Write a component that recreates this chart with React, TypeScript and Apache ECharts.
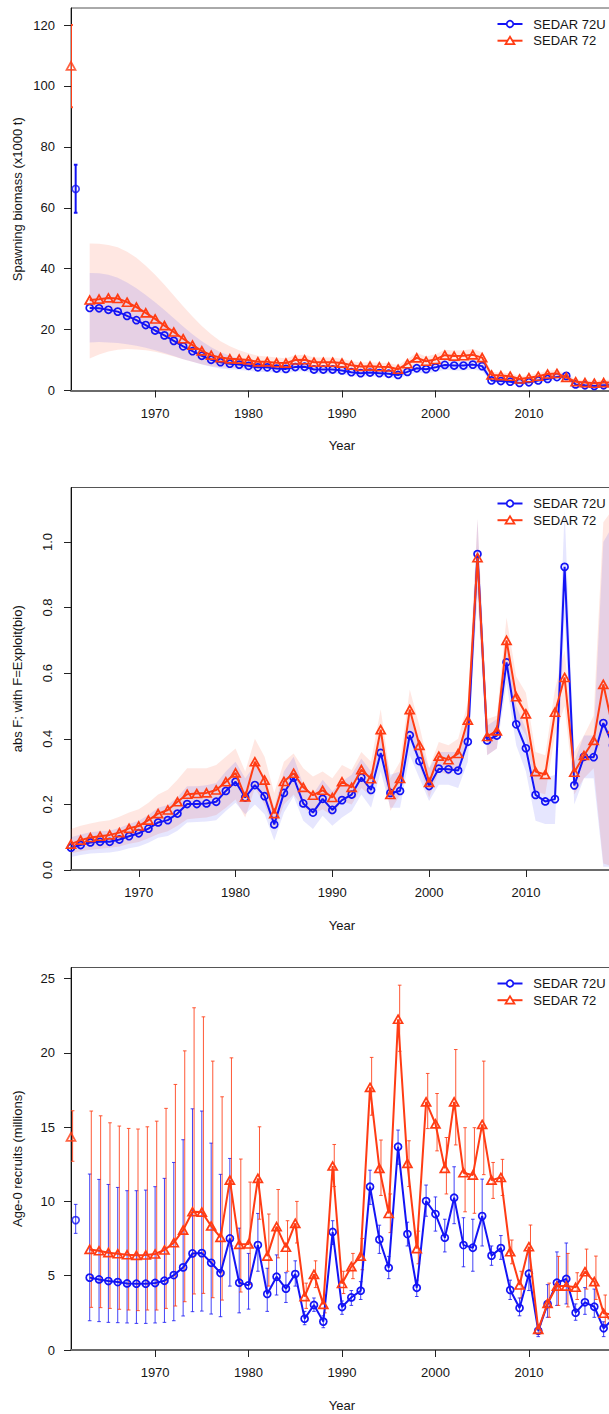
import React, { useEffect, useRef } from "react";
import * as echarts from "echarts";

const BLUE = "#1414F5";
const RED = "#FF3C14";
const FONT = "'Liberation Sans', Arial, Helvetica, sans-serif";
const TXT = "#151515";

const years = [
  1963, 1964, 1965, 1966, 1967, 1968, 1969, 1970, 1971, 1972,
  1973, 1974, 1975, 1976, 1977, 1978, 1979, 1980, 1981, 1982,
  1983, 1984, 1985, 1986, 1987, 1988, 1989, 1990, 1991, 1992,
  1993, 1994, 1995, 1996, 1997, 1998, 1999, 2000, 2001, 2002,
  2003, 2004, 2005, 2006, 2007, 2008, 2009, 2010, 2011, 2012,
  2013, 2014, 2015, 2016, 2017, 2018, 2019,
];
const xTicks = [1970, 1980, 1990, 2000, 2010, 2020];
const ssbTicks = [0, 20, 40, 60, 80, 100, 120];
const fTicks = [0, 0.2, 0.4, 0.6, 0.8, 1.0];
const recTicks = [0, 5, 10, 15, 20, 25];
const modelNames = ["SEDAR 72U", "SEDAR 72"];

// Panel 1: spawning biomass (x1000 t)
const ssbVirginBlue = [1961.5, 66.2, 58.4, 74.1];
const ssbVirginRed = [1961, 106.6, 93.0, 120.0];
const ssbBlue = [
  27.1, 27.0, 26.5, 25.9, 24.5, 23.1, 21.5, 19.7, 18.1, 16.3,
  14.5, 12.9, 11.4, 10.1, 9.3, 8.8, 8.5, 8.1, 7.6, 7.6,
  7.2, 7.1, 7.7, 7.8, 6.9, 6.9, 6.9, 6.6, 6.0, 5.7,
  5.9, 5.7, 5.5, 5.1, 6.1, 7.3, 7.0, 7.6, 8.4, 8.2,
  8.2, 8.5, 8.0, 3.3, 3.1, 2.9, 2.5, 2.7, 3.3, 3.8,
  4.4, 4.8, 2.0, 1.7, 1.5, 1.7, 1.8,
];
const ssbRed = [
  29.7, 30.0, 30.4, 30.2, 29.0, 27.4, 25.5, 23.5, 21.3, 19.2,
  17.0, 14.9, 13.0, 11.6, 10.8, 10.4, 10.3, 10.0, 9.4, 9.4,
  9.1, 9.0, 10.0, 10.1, 9.3, 9.3, 9.3, 9.0, 8.3, 7.9,
  8.0, 7.8, 7.7, 7.0, 8.8, 10.7, 9.6, 10.2, 11.6, 11.3,
  11.4, 11.7, 10.8, 5.1, 4.9, 4.7, 3.8, 4.2, 4.7, 5.4,
  5.6, 4.3, 2.9, 2.6, 2.4, 2.6, 2.6,
];
const ssbRedHi = [
  48.3, 48.2, 47.8, 47.0, 45.6, 43.6, 41.0, 38.0, 34.7, 31.2,
  27.7, 24.3, 21.2, 18.5, 16.2, 14.5, 13.2, 12.2, 11.4, 11.2,
  10.8, 10.6, 11.6, 11.7, 10.8, 10.8, 10.8, 10.4, 9.6, 9.2,
  9.3, 9.1, 9.0, 8.3, 10.3, 12.4, 11.2, 11.9, 13.4, 13.1,
  13.2, 13.6, 12.6, 6.1, 5.9, 5.7, 4.7, 5.1, 5.7, 6.5,
  6.8, 5.3, 3.7, 3.4, 3.2, 3.5, 3.6,
];
const ssbRedLo = [
  10.5, 11.8, 12.8, 13.4, 13.6, 13.5, 13.2, 12.7, 12.0, 11.2,
  10.3, 9.4, 8.6, 8.0, 7.6, 7.4, 7.3, 7.2, 7.0, 7.1,
  6.9, 6.9, 7.9, 8.1, 7.4, 7.4, 7.4, 7.2, 6.6, 6.3,
  6.4, 6.3, 6.2, 5.6, 7.1, 8.8, 7.9, 8.4, 9.7, 9.4,
  9.5, 9.7, 8.9, 4.1, 3.9, 3.7, 2.9, 3.3, 3.7, 4.3,
  4.4, 3.3, 2.1, 1.8, 1.6, 1.7, 1.6,
];
const ssbBlueHi = [
  38.6, 38.5, 38.0, 37.0, 35.5, 33.6, 31.4, 29.0, 26.4, 23.7,
  21.0, 18.5, 16.2, 14.2, 12.6, 11.4, 10.5, 9.9, 9.2, 9.1,
  8.6, 8.5, 9.2, 9.3, 8.3, 8.3, 8.3, 7.9, 7.2, 6.9,
  7.1, 6.9, 6.7, 6.2, 7.3, 8.7, 8.4, 9.1, 10.0, 9.8,
  9.8, 10.1, 9.6, 4.0, 3.8, 3.6, 3.1, 3.3, 4.0, 4.6,
  5.3, 5.8, 2.5, 2.2, 2.0, 2.3, 2.5,
];
const ssbBlueLo = [
  15.8, 15.9, 15.8, 15.6, 15.2, 14.7, 14.0, 13.2, 12.3, 11.3,
  10.3, 9.4, 8.5, 7.8, 7.2, 6.9, 6.7, 6.5, 6.1, 6.1,
  5.8, 5.7, 6.2, 6.3, 5.5, 5.5, 5.5, 5.3, 4.8, 4.5,
  4.7, 4.5, 4.3, 4.0, 4.9, 5.9, 5.6, 6.1, 6.8, 6.6,
  6.6, 6.9, 6.4, 2.6, 2.4, 2.2, 1.9, 2.1, 2.6, 3.0,
  3.5, 3.8, 1.5, 1.2, 1.0, 1.1, 1.1,
];

// Panel 2: abs F
const fBlue = [
  0.068, 0.076, 0.084, 0.086, 0.086, 0.093, 0.103, 0.112, 0.126, 0.145,
  0.152, 0.172, 0.201, 0.201, 0.203, 0.208, 0.241, 0.269, 0.221, 0.259,
  0.225, 0.139, 0.235, 0.282, 0.203, 0.175, 0.217, 0.183, 0.213, 0.230,
  0.282, 0.244, 0.357, 0.235, 0.241, 0.411, 0.332, 0.256, 0.309, 0.307,
  0.303, 0.391, 0.963, 0.395, 0.410, 0.633, 0.444, 0.371, 0.229, 0.209,
  0.216, 0.924, 0.258, 0.345, 0.344, 0.448, 0.38,
];
const fRed = [
  0.079, 0.091, 0.099, 0.103, 0.107, 0.114, 0.127, 0.134, 0.152, 0.172,
  0.183, 0.208, 0.231, 0.233, 0.235, 0.244, 0.269, 0.296, 0.223, 0.330,
  0.274, 0.172, 0.270, 0.295, 0.252, 0.228, 0.243, 0.221, 0.269, 0.252,
  0.306, 0.278, 0.428, 0.230, 0.279, 0.489, 0.380, 0.267, 0.347, 0.336,
  0.355, 0.457, 0.952, 0.407, 0.424, 0.700, 0.528, 0.476, 0.300, 0.291,
  0.481, 0.587, 0.298, 0.349, 0.395, 0.566, 0.43,
];
const fRedHi = [
  0.125, 0.135, 0.142, 0.148, 0.152, 0.162, 0.175, 0.185, 0.205, 0.23,
  0.245, 0.275, 0.31, 0.31, 0.31, 0.32, 0.345, 0.37, 0.30, 0.40,
  0.345, 0.235, 0.33, 0.355, 0.31, 0.285, 0.30, 0.28, 0.32, 0.305,
  0.36, 0.33, 0.49, 0.28, 0.33, 0.55, 0.44, 0.31, 0.39, 0.38,
  0.40, 0.51, 1.07, 0.46, 0.47, 0.77, 0.59, 0.54, 0.36, 0.35,
  0.55, 0.67, 0.36, 0.41, 0.47, 1.06, 1.1,
];
const fRedLo = [
  0.05, 0.057, 0.062, 0.065, 0.068, 0.072, 0.08, 0.085, 0.097, 0.11,
  0.118, 0.135, 0.155, 0.158, 0.16, 0.168, 0.19, 0.215, 0.16, 0.25,
  0.20, 0.12, 0.20, 0.23, 0.19, 0.17, 0.185, 0.165, 0.21, 0.20,
  0.25, 0.225, 0.36, 0.18, 0.23, 0.42, 0.32, 0.22, 0.30, 0.29,
  0.31, 0.40, 0.83, 0.35, 0.37, 0.62, 0.46, 0.41, 0.24, 0.23,
  0.41, 0.50, 0.23, 0.28, 0.31, 0.02, 0.01,
];
const fBlueHi = [
  0.10, 0.108, 0.115, 0.118, 0.12, 0.128, 0.14, 0.15, 0.168, 0.19,
  0.198, 0.222, 0.255, 0.255, 0.258, 0.265, 0.30, 0.33, 0.28, 0.32,
  0.285, 0.19, 0.30, 0.345, 0.26, 0.23, 0.275, 0.24, 0.27, 0.29,
  0.34, 0.30, 0.42, 0.29, 0.30, 0.47, 0.39, 0.31, 0.36, 0.36,
  0.36, 0.45, 1.07, 0.44, 0.46, 0.70, 0.50, 0.43, 0.30, 0.28,
  0.29, 1.10, 0.33, 0.41, 0.41, 1.0, 1.05,
];
const fBlueLo = [
  0.04, 0.046, 0.05, 0.052, 0.053, 0.058, 0.066, 0.072, 0.083, 0.098,
  0.104, 0.12, 0.145, 0.146, 0.148, 0.152, 0.18, 0.205, 0.17, 0.20,
  0.17, 0.09, 0.175, 0.225, 0.15, 0.125, 0.165, 0.135, 0.16, 0.18,
  0.23, 0.19, 0.30, 0.19, 0.19, 0.35, 0.28, 0.21, 0.26, 0.26,
  0.25, 0.33, 0.86, 0.35, 0.37, 0.57, 0.38, 0.30, 0.15, 0.14,
  0.14, 0.77, 0.20, 0.28, 0.28, 0.01, 0.01,
];

// Panel 3: Age-0 recruits (millions)
const recVirginBlue = [1961.5, 8.74, 7.85, 9.8];
const recVirginRed = [1961, 14.34, 12.7, 16.1];
const recBlue = [
  4.87, 4.75, 4.64, 4.57, 4.48, 4.46, 4.46, 4.51, 4.66, 5.04,
  5.56, 6.50, 6.52, 5.87, 5.18, 7.51, 4.53, 4.35, 7.06, 3.77,
  4.93, 4.13, 5.11, 2.11, 3.03, 1.91, 7.94, 2.89, 3.54, 3.99,
  10.99, 7.44, 5.54, 13.68, 7.80, 4.19, 10.02, 9.15, 7.56, 10.25,
  7.06, 6.88, 9.01, 6.35, 6.86, 4.04, 2.83, 5.13, 1.30, 3.09,
  4.53, 4.78, 2.51, 3.21, 2.91, 1.46, 2.1,
];
const recBlueHi = [
  11.84, 11.48, 11.14, 10.94, 10.72, 10.72, 10.76, 10.99, 11.55, 12.62,
  14.15, 16.23, 16.08, 13.92, 11.82, 12.89, 8.2, 6.5, 9.19, 5.5,
  6.4, 5.2, 6.0, 2.6, 3.5, 2.3, 8.7, 3.3, 4.0, 4.6,
  12.1, 8.4, 6.3, 14.8, 8.6, 4.7, 11.1, 10.3, 8.8, 12.33,
  8.9, 8.8, 11.5, 7.0, 7.7, 4.7, 3.5, 6.6, 1.5, 4.4,
  6.6, 7.2, 3.1, 4.2, 4.1, 1.9, 2.9,
];
const recBlueLo = [
  1.97, 1.91, 1.86, 1.84, 1.82, 1.79, 1.79, 1.82, 1.86, 1.97,
  2.29, 2.58, 2.62, 2.42, 2.24, 4.3, 2.5, 2.75, 5.3, 2.6,
  3.7, 3.2, 4.3, 1.7, 2.6, 1.5, 7.1, 2.4, 3.0, 3.4,
  9.8, 6.5, 4.8, 12.5, 7.0, 3.6, 9.0, 8.0, 6.6, 8.5,
  5.6, 5.3, 7.0, 5.7, 6.1, 3.4, 2.3, 4.0, 0.9, 2.2,
  3.0, 3.1, 2.0, 2.4, 2.2, 0.9, 1.5,
];
const recRed = [
  6.77, 6.68, 6.55, 6.48, 6.41, 6.37, 6.39, 6.46, 6.73, 7.22,
  8.07, 9.30, 9.28, 8.34, 7.58, 11.43, 7.11, 7.13, 11.55, 6.32,
  8.30, 6.91, 8.52, 3.59, 5.09, 3.07, 12.38, 4.48, 5.61, 6.32,
  17.67, 12.22, 9.19, 22.26, 12.56, 6.82, 16.70, 15.22, 12.22, 16.70,
  11.93, 11.77, 15.18, 11.43, 11.61, 6.61, 4.37, 6.95, 1.39, 3.14,
  4.30, 4.30, 4.22, 5.27, 4.60, 2.47, 2.4,
];
const recRedHi = [
  16.08, 15.76, 15.29, 15.07, 14.91, 14.87, 15.02, 15.40, 16.26, 17.87,
  20.13, 23.03, 22.42, 19.44, 17.04, 19.66, 12.85, 11.3, 15.02, 9.15,
  10.8, 8.7, 10.0, 4.5, 6.0, 3.7, 13.83, 5.3, 6.5, 7.5,
  19.69, 14.13, 10.5, 24.55, 14.08, 8.0, 18.61, 17.26, 14.3, 20.22,
  14.96, 14.96, 19.44, 12.62, 12.83, 7.4, 5.3, 8.41, 1.7, 4.5,
  6.3, 6.5, 5.2, 6.79, 6.32, 3.7, 3.5,
];
const recRedLo = [
  2.87, 2.85, 2.80, 2.74, 2.69, 2.65, 2.69, 2.69, 2.80, 2.96,
  3.25, 3.77, 3.81, 3.52, 3.36, 7.0, 3.9, 4.4, 8.8, 4.3,
  6.2, 5.3, 7.2, 2.8, 4.2, 2.5, 11.0, 3.8, 4.8, 5.4,
  15.8, 10.4, 7.9, 20.1, 11.0, 5.8, 14.9, 13.4, 10.5, 13.8,
  9.3, 9.2, 11.8, 10.2, 10.4, 5.8, 3.5, 5.4, 1.1, 2.2,
  3.0, 2.9, 3.4, 4.1, 3.4, 1.6, 1.6,
];

// ---------- layout ----------
const GL = 71;
const GW = 542;
const GH = 382.5;
const panelTops = [8, 487.5, 967.5];
const yMax = [125.6, 1.166, 25.74];
const xMin = [1961, 1963, 1961];
const yTitles = ["Spawning biomass (x1000 t)", "abs F; with F=Exploit(bio)", "Age-0 recruits (millions)"];

function bandSeries(gi: number, lo: number[], hi: number[], color: string) {
  return {
    type: "custom",
    xAxisIndex: gi,
    yAxisIndex: gi,
    clip: true,
    silent: true,
    z: 1,
    data: years.map((y, i) => [y, lo[i], hi[i]]),
    encode: { x: 0, y: [1, 2] },
    renderItem: (params: any, api: any) => {
      if (params.dataIndex !== 0) return null;
      const top = years.map((y, i) => api.coord([y, hi[i]]));
      const bot = years.map((y, i) => api.coord([y, lo[i]])).reverse();
      return {
        type: "polygon",
        shape: { points: top.concat(bot) },
        style: { fill: color, stroke: "none" },
      };
    },
  };
}

function errSeries(gi: number, data: number[][], color: string, width: number, opacity: number, shiftPx: number) {
  return {
    type: "custom",
    xAxisIndex: gi,
    yAxisIndex: gi,
    clip: true,
    silent: true,
    z: 2,
    data,
    encode: { x: 0, y: [1, 2] },
    renderItem: (params: any, api: any) => {
      const x = api.value(0);
      const p1 = api.coord([x, api.value(1)]);
      const p2 = api.coord([x, api.value(2)]);
      const px = p1[0] + shiftPx;
      const c = 1.8;
      const st = { stroke: color, lineWidth: width, opacity };
      return {
        type: "group",
        children: [
          { type: "line", shape: { x1: px, y1: p1[1], x2: px, y2: p2[1] }, style: st },
          { type: "line", shape: { x1: px - c, y1: p1[1], x2: px + c, y2: p1[1] }, style: st },
          { type: "line", shape: { x1: px - c, y1: p2[1], x2: px + c, y2: p2[1] }, style: st },
        ],
      };
    },
  };
}

function lineSeries(gi: number, name: string, vals: number[], color: string, tri: boolean) {
  return {
    type: "line",
    name,
    xAxisIndex: gi,
    yAxisIndex: gi,
    data: years.map((y, i) => [y, vals[i]]),
    symbol: tri ? "triangle" : "circle",
    symbolSize: tri ? [9, 8] : 7,
    showSymbol: true,
    showAllSymbol: true,
    clip: true,
    silent: true,
    z: tri ? 4 : 3,
    lineStyle: { color, width: 2 },
    itemStyle: { color: "rgba(255,255,255,0)", borderColor: color, borderWidth: 1.7 },
    emphasis: { disabled: true },
  };
}

function virginSeries(gi: number, pt: number[], color: string, tri: boolean) {
  return {
    type: "scatter",
    xAxisIndex: gi,
    yAxisIndex: gi,
    data: [[pt[0], pt[1]]],
    symbol: tri ? "triangle" : "circle",
    symbolSize: tri ? [9, 8] : 7,
    clip: true,
    silent: true,
    z: 5,
    itemStyle: { color: "rgba(255,255,255,0)", borderColor: color, borderWidth: 1.7 },
    emphasis: { disabled: true },
  };
}

function legendGraphics(top: number) {
  const y1 = top + 16;
  const y2 = top + 32.7;
  const txt = (y: number, t: string) => ({
    type: "text",
    x: 533.3,
    y,
    style: {
      text: t,
      fontSize: 13,
      fontFamily: FONT,
      fill: TXT,
      align: "left",
      verticalAlign: "middle",
      textAlign: "left",
      textVerticalAlign: "middle",
    },
  });
  return [
    { type: "line", shape: { x1: 497.5, y1, x2: 522.5, y2: y1 }, style: { stroke: BLUE, lineWidth: 2 } },
    { type: "circle", shape: { cx: 510, cy: y1, r: 3.3 }, style: { fill: "#fff", stroke: BLUE, lineWidth: 1.7 } },
    txt(y1, modelNames[0]),
    { type: "line", shape: { x1: 497.5, y1: y2, x2: 522.5, y2: y2 }, style: { stroke: RED, lineWidth: 2 } },
    {
      type: "polygon",
      shape: { points: [[510, y2 - 4], [514.5, y2 + 3.5], [505.5, y2 + 3.5]] },
      style: { fill: "#fff", stroke: RED, lineWidth: 1.7 },
    },
    txt(y2, modelNames[1]),
  ];
}

function titleGraphics(gi: number) {
  const top = panelTops[gi];
  return [
    {
      type: "text",
      x: 17,
      y: top + GH / 2,
      rotation: Math.PI / 2,
      style: {
        text: yTitles[gi],
        fontSize: 13,
        fontFamily: FONT,
        fill: TXT,
        align: "center",
        verticalAlign: "middle",
        textAlign: "center",
        textVerticalAlign: "middle",
      },
    },
    {
      type: "text",
      x: GL + GW / 2,
      y: top + GH + 55,
      style: {
        text: "Year",
        fontSize: 13,
        fontFamily: FONT,
        fill: TXT,
        align: "center",
        verticalAlign: "middle",
        textAlign: "center",
        textVerticalAlign: "middle",
      },
    },
  ];
}

function buildOption() {
  const grids = panelTops.map((t) => ({
    left: GL,
    top: t,
    width: GW,
    height: GH,
    show: true,
    borderColor: "#555",
    borderWidth: 1,
    backgroundColor: "transparent",
    containLabel: false,
    outerBoundsMode: "none",
  }));
  const xAxes = [0, 1, 2].map((gi) => ({
    type: "value",
    gridIndex: gi,
    min: xMin[gi],
    max: 2019,
    axisLine: { show: true, onZero: false, lineStyle: { color: "#6a6a6a", width: 2 } },
    axisTick: { show: true, length: 7, lineStyle: { color: "#222", width: 1 }, customValues: xTicks },
    axisLabel: {
      show: true,
      customValues: xTicks,
      fontSize: 13,
      color: TXT,
      margin: 16,
      fontFamily: FONT,
      formatter: (v: number) => String(Math.round(v)),
    },
    splitLine: { show: false },
  }));
  const yTickSets = [ssbTicks, fTicks, recTicks];
  const yAxes = [0, 1, 2].map((gi) => ({
    type: "value",
    gridIndex: gi,
    min: 0,
    max: yMax[gi],
    axisLine: { show: true, onZero: false, lineStyle: { color: "#111", width: 1 } },
    axisTick: { show: true, length: 7, lineStyle: { color: "#222", width: 1 }, customValues: yTickSets[gi] },
    axisLabel: {
      show: true,
      customValues: yTickSets[gi],
      fontSize: 13,
      color: TXT,
      fontFamily: FONT,
      margin: gi === 1 ? 17 : 16,
      rotate: gi === 1 ? 90 : 0,
      formatter: (v: number) => (gi === 1 ? v.toFixed(1) : String(Math.round(v))),
    },
    splitLine: { show: false },
  }));

  const redBand = "rgba(255,70,30,0.13)";
  const blueBand = "rgba(30,30,245,0.11)";

  const series: any[] = [
    // panel 1
    bandSeries(0, ssbRedLo, ssbRedHi, redBand),
    bandSeries(0, ssbBlueLo, ssbBlueHi, blueBand),
    errSeries(0, [[ssbVirginBlue[0], ssbVirginBlue[2], ssbVirginBlue[3]]], BLUE, 2, 1, 0),
    errSeries(0, [[ssbVirginRed[0], ssbVirginRed[2], ssbVirginRed[3]]], RED, 2, 1, 0),
    lineSeries(0, modelNames[0], ssbBlue, BLUE, false),
    lineSeries(0, modelNames[1], ssbRed, RED, true),
    virginSeries(0, ssbVirginBlue, BLUE, false),
    virginSeries(0, ssbVirginRed, RED, true),
    // panel 2
    bandSeries(1, fRedLo, fRedHi, redBand),
    bandSeries(1, fBlueLo, fBlueHi, blueBand),
    lineSeries(1, modelNames[0], fBlue, BLUE, false),
    lineSeries(1, modelNames[1], fRed, RED, true),
    // panel 3
    errSeries(
      2,
      [[recVirginBlue[0], recVirginBlue[2], recVirginBlue[3]]].concat(
        years.map((y, i) => [y, recBlueLo[i], recBlueHi[i]])
      ),
      BLUE,
      1,
      0.8,
      0
    ),
    errSeries(
      2,
      [[recVirginRed[0], recVirginRed[2], recVirginRed[3]]].concat(
        years.map((y, i) => [y, recRedLo[i], recRedHi[i]])
      ),
      RED,
      1,
      0.85,
      1.6
    ),
    lineSeries(2, modelNames[0], recBlue, BLUE, false),
    lineSeries(2, modelNames[1], recRed, RED, true),
    virginSeries(2, recVirginBlue, BLUE, false),
    virginSeries(2, recVirginRed, RED, true),
  ];

  const graphics: any[] = [];
  [0, 1, 2].forEach((gi) => {
    graphics.push(...legendGraphics(panelTops[gi]));
    graphics.push(...titleGraphics(gi));
  });

  return {
    animation: false,
    backgroundColor: "#ffffff",
    textStyle: { fontFamily: FONT },
    grid: grids,
    xAxis: xAxes,
    yAxis: yAxes,
    series,
    graphic: { elements: graphics },
    tooltip: { show: false },
  };
}

export default function App() {
  const ref = useRef<HTMLDivElement>(null);
  useEffect(() => {
    if (!ref.current) return;
    const chart = echarts.init(ref.current, undefined, { renderer: "svg" });
    chart.setOption(buildOption() as any);
    return () => chart.dispose();
  }, []);
  return (
    <div
      style={{
        position: "fixed",
        left: 0,
        top: 0,
        width: 609,
        height: 1414,
        overflow: "hidden",
        background: "#fff",
      }}
    >
      <div ref={ref} style={{ width: 630, height: 1414 }} />
    </div>
  );
}
